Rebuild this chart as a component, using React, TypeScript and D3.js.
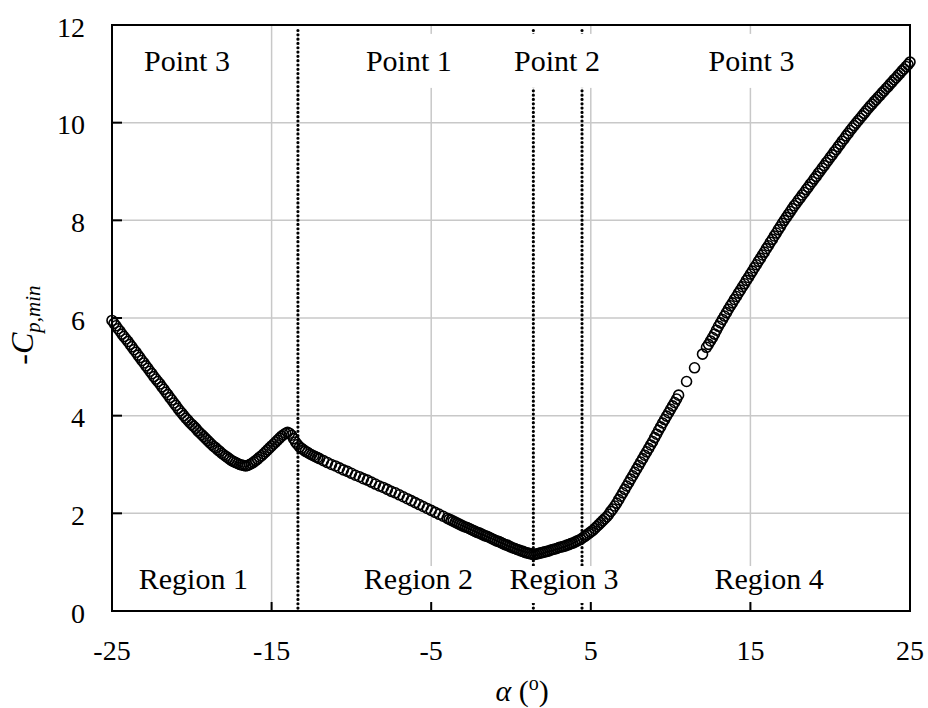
import React, { useEffect, useRef } from 'react';
import * as d3 from 'd3';

const width = 928;
const height = 708;
const margin = { top: 25, right: 18, bottom: 97, left: 112 };

const xTicks = [-25, -15, -5, 5, 15, 25];
const yTicks = [0, 2, 4, 6, 8, 10, 12];

// angle of attack (deg), -Cp,min
const samples: [number, number][] = [
  [-25, 5.95], [-24.75, 5.84], [-24.5, 5.73], [-24.25, 5.62], [-24, 5.52], [-23.75, 5.41], [-23.5, 5.3], [-23.25, 5.19],
  [-23, 5.08], [-22.75, 4.97], [-22.5, 4.86], [-22.25, 4.75], [-22, 4.65], [-21.75, 4.54], [-21.5, 4.43], [-21.25, 4.32],
  [-21, 4.21], [-20.75, 4.1], [-20.5, 4.0], [-20.25, 3.91], [-20, 3.82], [-19.75, 3.74], [-19.5, 3.65], [-19.25, 3.57],
  [-19, 3.49], [-18.75, 3.41], [-18.5, 3.34], [-18.25, 3.27], [-18, 3.2], [-17.75, 3.14], [-17.5, 3.08], [-17.25, 3.04],
  [-17, 3.0], [-16.75, 2.98], [-16.5, 2.98], [-16.25, 3.02], [-16, 3.08], [-15.75, 3.15], [-15.5, 3.22], [-15.25, 3.3],
  [-15, 3.38], [-14.75, 3.46], [-14.5, 3.54], [-14.25, 3.61], [-14, 3.66], [-13.75, 3.6], [-13.5, 3.46], [-13.25, 3.36],
  [-13, 3.3], [-12.75, 3.25], [-12.5, 3.2], [-12.25, 3.16], [-12, 3.12], [-11.75, 3.08], [-11.5, 3.04], [-11.25, 3.0],
  [-11, 2.97], [-10.75, 2.93], [-10.5, 2.89], [-10.25, 2.86], [-10, 2.82], [-9.75, 2.78], [-9.5, 2.75], [-9.25, 2.71],
  [-9, 2.68], [-8.75, 2.64], [-8.5, 2.6], [-8.25, 2.56], [-8, 2.53], [-7.75, 2.49], [-7.5, 2.45], [-7.25, 2.42],
  [-7, 2.38], [-6.75, 2.34], [-6.5, 2.3], [-6.25, 2.26], [-6, 2.22], [-5.75, 2.18], [-5.5, 2.14], [-5.25, 2.1],
  [-5, 2.06], [-4.75, 2.02], [-4.5, 1.98], [-4.25, 1.94], [-4, 1.9], [-3.75, 1.86], [-3.5, 1.82], [-3.25, 1.78],
  [-3, 1.74], [-2.75, 1.71], [-2.5, 1.67], [-2.25, 1.63], [-2, 1.6], [-1.75, 1.56], [-1.5, 1.53], [-1.25, 1.49],
  [-1, 1.45], [-0.75, 1.42], [-0.5, 1.38], [-0.25, 1.35], [0, 1.31], [0.25, 1.28], [0.5, 1.25], [0.75, 1.22],
  [1, 1.19], [1.25, 1.17], [1.5, 1.16], [1.75, 1.18], [2, 1.2], [2.25, 1.22], [2.5, 1.25], [2.75, 1.27],
  [3, 1.3], [3.25, 1.32], [3.5, 1.35], [3.75, 1.38], [4, 1.41], [4.25, 1.45], [4.5, 1.5], [4.75, 1.56],
  [5, 1.62], [5.25, 1.69], [5.5, 1.77], [5.75, 1.85], [6, 1.93], [6.25, 2.04], [6.5, 2.15], [6.75, 2.28],
  [7, 2.42], [7.25, 2.56], [7.5, 2.7], [7.75, 2.84], [8, 2.98], [8.25, 3.12], [8.5, 3.26], [8.75, 3.4],
  [9, 3.55], [9.25, 3.7], [9.5, 3.85], [9.75, 3.99], [10, 4.13], [10.25, 4.27], [10.5, 4.42],
  [11, 4.7], [11.5, 4.98], [12, 5.26],
  [12.25, 5.4], [12.5, 5.53], [12.75, 5.67], [13, 5.83], [13.25, 5.97], [13.5, 6.11], [13.75, 6.25], [14, 6.38],
  [14.25, 6.51], [14.5, 6.64], [14.75, 6.77], [15, 6.9], [15.25, 7.03], [15.5, 7.16], [15.75, 7.29], [16, 7.42],
  [16.25, 7.55], [16.5, 7.68], [16.75, 7.81], [17, 7.94], [17.25, 8.06], [17.5, 8.18], [17.75, 8.3], [18, 8.41],
  [18.25, 8.52], [18.5, 8.63], [18.75, 8.74], [19, 8.85], [19.25, 8.96], [19.5, 9.07], [19.75, 9.18], [20, 9.29],
  [20.25, 9.4], [20.5, 9.51], [20.75, 9.62], [21, 9.73], [21.25, 9.84], [21.5, 9.94], [21.75, 10.04], [22, 10.14],
  [22.25, 10.24], [22.5, 10.34], [22.75, 10.43], [23, 10.52], [23.25, 10.61], [23.5, 10.7], [23.75, 10.79], [24, 10.88],
  [24.25, 10.97], [24.5, 11.06], [24.75, 11.15], [25, 11.24],
];

// extra readings where the measured points are packed tighter
const samplesRegion1: [number, number][] = [
  [-24.875, 5.89], [-24.625, 5.78], [-24.375, 5.67], [-24.125, 5.57], [-23.875, 5.46], [-23.625, 5.35], [-23.375, 5.24],
  [-23.125, 5.13], [-22.875, 5.02], [-22.625, 4.91], [-22.375, 4.8], [-22.125, 4.7], [-21.875, 4.59], [-21.625, 4.48],
  [-21.375, 4.37], [-21.125, 4.26], [-20.875, 4.15], [-20.625, 4.05], [-20.375, 3.95], [-20.125, 3.86], [-19.875, 3.78],
  [-19.625, 3.69], [-19.375, 3.61], [-19.125, 3.53], [-18.875, 3.45], [-18.625, 3.37], [-18.375, 3.3], [-18.125, 3.23],
  [-17.875, 3.17], [-17.625, 3.11], [-17.375, 3.06], [-17.125, 3.02], [-16.875, 2.99], [-16.625, 2.97], [-16.375, 3.0],
  [-16.125, 3.05], [-15.875, 3.11], [-15.625, 3.18], [-15.375, 3.26], [-15.125, 3.34], [-14.875, 3.42], [-14.625, 3.5],
  [-14.375, 3.58], [-14.125, 3.64], [-13.875, 3.64], [-13.625, 3.53], [-13.375, 3.41], [-13.125, 3.33], [-12.875, 3.27],
  [-12.625, 3.22], [-12.375, 3.18], [-12.125, 3.14],
];
const samplesRegion23: [number, number][] = [
  [-3.875, 1.88], [-3.625, 1.84], [-3.375, 1.8], [-3.125, 1.76], [-2.875, 1.72], [-2.625, 1.69], [-2.375, 1.65],
  [-2.125, 1.61], [-1.875, 1.58], [-1.625, 1.54], [-1.375, 1.51], [-1.125, 1.47], [-0.875, 1.43], [-0.625, 1.4],
  [-0.375, 1.36], [-0.125, 1.33], [0.125, 1.29], [0.375, 1.26], [0.625, 1.23], [0.875, 1.2], [1.125, 1.18],
  [1.375, 1.16], [1.625, 1.17], [1.875, 1.19], [2.125, 1.21], [2.375, 1.23], [2.625, 1.26], [2.875, 1.28],
  [3.125, 1.31], [3.375, 1.33], [3.625, 1.36], [3.875, 1.39], [4.125, 1.43], [4.375, 1.47], [4.625, 1.53],
  [4.875, 1.59], [5.125, 1.65], [5.375, 1.73], [5.625, 1.81], [5.875, 1.89], [6.125, 1.98], [6.375, 2.09],
  [6.625, 2.21], [6.875, 2.35], [7.125, 2.49], [7.375, 2.63], [7.625, 2.77], [7.875, 2.91], [8.125, 3.05],
  [8.375, 3.19], [8.625, 3.33], [8.875, 3.47], [9.125, 3.62], [9.375, 3.77], [9.625, 3.92], [9.875, 4.06],
  [10.125, 4.2], [10.375, 4.34],
];
const samplesRegion4: [number, number][] = [
  [12.375, 5.46], [12.625, 5.6], [12.875, 5.75], [13.125, 5.9], [13.375, 6.04], [13.625, 6.18], [13.875, 6.31],
  [14.125, 6.44], [14.375, 6.57], [14.625, 6.7], [14.875, 6.83], [15.125, 6.96], [15.375, 7.09], [15.625, 7.22],
  [15.875, 7.35], [16.125, 7.48], [16.375, 7.61], [16.625, 7.74], [16.875, 7.87], [17.125, 8.0], [17.375, 8.12],
  [17.625, 8.24], [17.875, 8.35], [18.125, 8.46], [18.375, 8.57], [18.625, 8.68], [18.875, 8.79], [19.125, 8.9],
  [19.375, 9.01], [19.625, 9.12], [19.875, 9.23], [20.125, 9.34], [20.375, 9.45], [20.625, 9.56], [20.875, 9.67],
  [21.125, 9.78], [21.375, 9.89], [21.625, 9.99], [21.875, 10.09], [22.125, 10.19], [22.375, 10.29], [22.625, 10.38],
  [22.875, 10.47], [23.125, 10.56], [23.375, 10.65], [23.625, 10.74], [23.875, 10.83], [24.125, 10.92], [24.375, 11.01],
  [24.625, 11.1], [24.875, 11.19],
];

// dotted region boundaries (deg)
const boundaries = [-13.35, 1.4, 4.45];

const pointLabels = [
  { text: 'Point 3', a: -20.3 },
  { text: 'Point 1', a: -6.4 },
  { text: 'Point 2', a: 2.88 },
  { text: 'Point 3', a: 15.07 },
];
const regionLabels = [
  { text: 'Region 1', a: -19.9 },
  { text: 'Region 2', a: -5.8 },
  { text: 'Region 3', a: 3.32 },
  { text: 'Region 4', a: 16.17 },
];

const font = "'Liberation Serif', 'Times New Roman', Times, serif";

const App = () => {
  const ref = useRef<SVGSVGElement>(null);

  useEffect(() => {
    const svg = d3.select(ref.current);
    svg.selectAll('*').remove();

    const x = d3.scaleLinear().domain([-25, 25]).range([margin.left, width - margin.right]);
    const y = d3.scaleLinear().domain([0, 12]).range([height - margin.bottom, margin.top]);

    // grid
    const grid = svg.append('g').attr('stroke', '#c8c8c8').attr('stroke-width', 1.5);
    grid.selectAll('line.v')
      .data(xTicks.slice(1, -1))
      .join('line')
      .attr('x1', d => x(d)).attr('x2', d => x(d))
      .attr('y1', y(12)).attr('y2', y(0));
    grid.selectAll('line.h')
      .data(yTicks.slice(1, -1))
      .join('line')
      .attr('class', 'h')
      .attr('x1', x(-25)).attr('x2', x(25))
      .attr('y1', d => y(d)).attr('y2', d => y(d));

    // dotted boundaries
    svg.append('g')
      .selectAll('line')
      .data(boundaries)
      .join('line')
      .attr('x1', d => x(d)).attr('x2', d => x(d))
      .attr('y1', y(12) + 5.5).attr('y2', y(0))
      .attr('stroke', '#000')
      .attr('stroke-width', 3.2)
      .attr('stroke-linecap', 'round')
      .attr('stroke-dasharray', '0.01 4.3');

    // labels with white boxes
    const addLabels = (list, v, padTop, padBottom) => {
      const g = svg.append('g');
      list.forEach(l => {
        const lg = g.append('g');
        const rect = lg.append('rect').attr('fill', '#fff');
        const t = lg.append('text')
          .attr('x', x(l.a))
          .attr('y', y(v))
          .attr('text-anchor', 'middle')
          .style('font-family', font)
          .attr('font-size', 30)
          .text(l.text);
        const bb = (t.node() as SVGTextElement).getBBox();
        rect.attr('x', bb.x - 6).attr('width', bb.width + 12)
          .attr('y', y(v) - padTop).attr('height', padTop + padBottom);
      });
    };
    addLabels(pointLabels, 11.06, 37, 17);
    addLabels(regionLabels, 0.45, 23, 14);

    // frame
    svg.append('rect')
      .attr('x', x(-25)).attr('y', y(12))
      .attr('width', x(25) - x(-25)).attr('height', y(0) - y(12))
      .attr('fill', 'none').attr('stroke', '#000').attr('stroke-width', 2);

    // ticks (inside)
    const ticks = svg.append('g').attr('stroke', '#000').attr('stroke-width', 2);
    ticks.selectAll('line.x')
      .data(xTicks)
      .join('line')
      .attr('x1', d => x(d)).attr('x2', d => x(d))
      .attr('y1', y(0)).attr('y2', y(0) - 9);
    ticks.selectAll('line.y')
      .data(yTicks)
      .join('line')
      .attr('class', 'y')
      .attr('x1', x(-25)).attr('x2', x(-25) + 10)
      .attr('y1', d => y(d)).attr('y2', d => y(d));

    // tick labels
    svg.append('g')
      .selectAll('text')
      .data(xTicks)
      .join('text')
      .attr('x', d => x(d))
      .attr('y', 660)
      .attr('text-anchor', 'middle')
      .style('font-family', font)
      .attr('font-size', 28)
      .text(d => d);
    svg.append('g')
      .selectAll('text')
      .data(yTicks)
      .join('text')
      .attr('x', 85)
      .attr('y', d => y(d) + 11.5)
      .attr('text-anchor', 'end')
      .style('font-family', font)
      .attr('font-size', 28)
      .text(d => d);

    // axis titles
    const xt = svg.append('text')
      .attr('x', 522).attr('y', 701)
      .attr('text-anchor', 'middle')
      .style('font-family', font)
      .attr('font-size', 30);
    xt.append('tspan').attr('font-style', 'italic').text('α');
    xt.append('tspan').text(' (');
    xt.append('tspan').attr('font-size', 20).attr('dy', -11).text('o');
    xt.append('tspan').attr('dy', 11).text(')');

    const yt = svg.append('text')
      .attr('transform', 'translate(33,325) rotate(-90)')
      .attr('text-anchor', 'middle')
      .style('font-family', font)
      .attr('font-size', 32);
    yt.append('tspan').text('-');
    yt.append('tspan').attr('font-style', 'italic').text('C');
    yt.append('tspan').attr('font-style', 'italic').attr('font-size', 21).attr('dy', 7).text('p,min');

    // data
    const all = [...samples, ...samplesRegion1, ...samplesRegion23, ...samplesRegion4];
    svg.append('g')
      .selectAll('circle')
      .data(all)
      .join('circle')
      .attr('cx', d => x(d[0]))
      .attr('cy', d => y(d[1]))
      .attr('r', 5)
      .attr('fill', 'none')
      .attr('stroke', '#000')
      .attr('stroke-width', 1.6);
  }, []);

  return (
    <svg
      ref={ref}
      width={width}
      height={height}
      style={{ position: 'absolute', left: 0, top: 0, background: '#fff' }}
    />
  );
};

export default App;
